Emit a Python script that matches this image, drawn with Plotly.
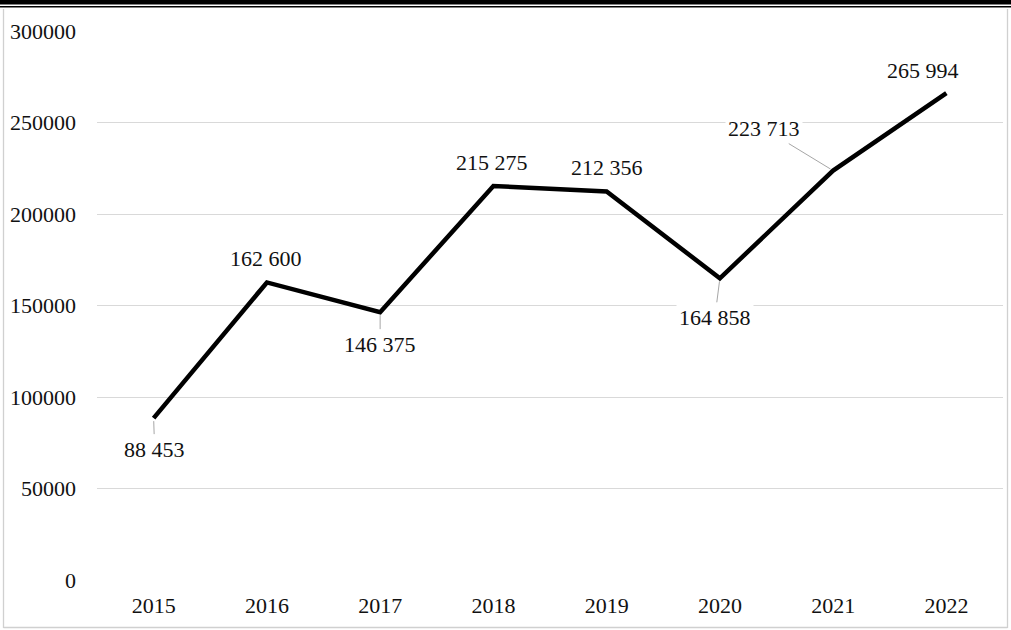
import plotly.graph_objects as go

years = ["2015", "2016", "2017", "2018", "2019", "2020", "2021", "2022"]
values = [88453, 162600, 146375, 215275, 212356, 164858, 223713, 265994]
labels = ["88 453", "162 600", "146 375", "215 275", "212 356", "164 858", "223 713", "265 994"]
# label offsets in pixels (ax, ay) and whether a leader line is shown
offsets = [(1, 31), (-1, -24), (0, 32), (-1, -24), (0, -24), (-5, 39), (-69, -42), (-23, -23)]
leaders = [True, False, True, False, False, True, True, False]

W, H = 1011, 630
L, R, T, B = 97, 1003, 31, 580
FONT = "Liberation Serif, Times New Roman, serif"

fig = go.Figure()
fig.add_trace(go.Scatter(x=years, y=values, mode="lines",
                         line=dict(color="black", width=4.5), hoverinfo="skip"))

for i, (v, lab, (ax, ay), ld) in enumerate(zip(values, labels, offsets, leaders)):
    fig.add_annotation(x=i, y=v, text=lab, showarrow=True, ax=ax, ay=ay,
                       arrowhead=0, arrowwidth=1,
                       arrowcolor="#a6a6a6" if ld else "rgba(0,0,0,0)",
                       standoff=3, bgcolor="white", borderpad=2,
                       font=dict(family=FONT, size=22, color="#111111"))

def px(x):
    return (x - L) / (R - L)

def py(y):
    return (B - y) / (B - T)

shapes = [
    dict(type="rect", xref="paper", yref="paper", x0=px(0), x1=px(W), y0=py(0), y1=py(4.5),
         fillcolor="black", line=dict(width=0), layer="above"),
    dict(type="line", xref="paper", yref="paper", x0=px(0), x1=px(W), y0=py(6.8), y1=py(6.8),
         line=dict(color="black", width=1.6), layer="above"),
    dict(type="line", xref="paper", yref="paper", x0=px(3.5), x1=px(3.5), y0=py(9), y1=py(628),
         line=dict(color="#d0d0d0", width=1.3)),
    dict(type="line", xref="paper", yref="paper", x0=px(1007.5), x1=px(1007.5), y0=py(9), y1=py(628),
         line=dict(color="#d0d0d0", width=1.3)),
    dict(type="line", xref="paper", yref="paper", x0=px(3.5), x1=px(1007.5), y0=py(627.5), y1=py(627.5),
         line=dict(color="#d0d0d0", width=1.3)),
]

fig.update_layout(
    width=W, height=H,
    margin=dict(l=L, r=W - R, t=T, b=H - B),
    paper_bgcolor="white", plot_bgcolor="white",
    showlegend=False,
    shapes=shapes,
    font=dict(family=FONT, size=22, color="#111111"),
    xaxis=dict(type="category", range=[-0.5, 7.5], showgrid=False, zeroline=False, showline=False,
               ticks="", ticklabelstandoff=10, automargin=False,
               tickfont=dict(family=FONT, size=22)),
    yaxis=dict(range=[0, 300000], tickvals=[0, 50000, 100000, 150000, 200000, 250000, 300000],
               ticktext=["0", "50000", "100000", "150000", "200000", "250000", "300000"],
               showgrid=True, gridcolor="#d9d9d9", gridwidth=1.3, zeroline=False,
               showline=False, ticks="", ticklabelstandoff=20, automargin=False,
               tickfont=dict(family=FONT, size=22)),
)

fig.write_html("out.html", config={"displayModeBar": False},
               post_script="document.body.style.margin='0';document.body.style.overflow='hidden';")
